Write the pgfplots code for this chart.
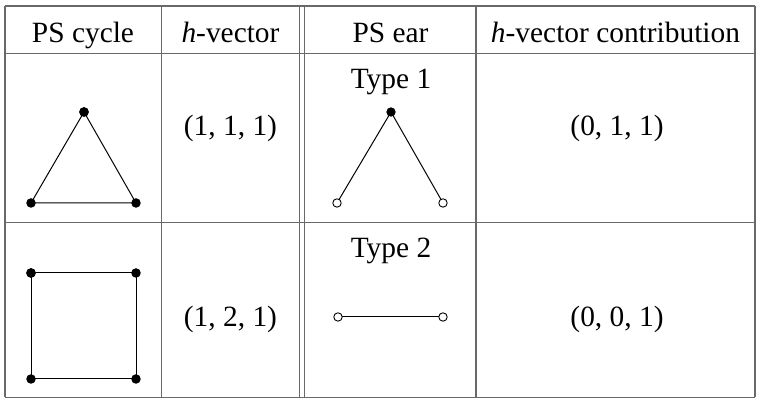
\documentclass[border=0pt]{standalone}
\usepackage{fontspec}
\setmainfont{Liberation Serif}
\usepackage{pgfplots}
\pgfplotsset{compat=1.18}
\definecolor{rule}{RGB}{105,105,105}

\begin{document}
\begin{tikzpicture}[lbl/.style={font=\fontsize{14.7}{17}\selectfont, inner sep=0pt, anchor=base}]
\begin{axis}[
  scale only axis, width=378.5pt, height=199.5pt,
  xmin=0, xmax=757, ymin=0, ymax=399, y dir=reverse,
  hide axis, clip=false,
  tbl/.style={rule, line width=0.8pt, mark=none},
  edge/.style={black, line width=0.5pt, mark=none},
]
\path (axis cs:0,0) rectangle (axis cs:757,399);
% table rules
\addplot[tbl] coordinates {(5,6) (755,6)};
\addplot[tbl] coordinates {(5,53.5) (755,53.5)};
\addplot[tbl] coordinates {(5,222.7) (755,222.7)};
\addplot[tbl] coordinates {(5,397.5) (755,397.5)};
\addplot[tbl] coordinates {(5,6) (5,397.5)};
\addplot[tbl] coordinates {(161.5,6) (161.5,397.5)};
\addplot[tbl] coordinates {(299.5,6) (299.5,397.5)};
\addplot[tbl] coordinates {(304.5,6) (304.5,397.5)};
\addplot[tbl] coordinates {(476,6) (476,397.5)};
\addplot[tbl] coordinates {(755,6) (755,397.5)};
% triangle
\addplot[edge, mark=*, mark size=2.1pt, mark options={fill=black}]
  coordinates {(84,112) (31,203) (136,203) (84,112)};
% square
\addplot[edge, mark=*, mark size=2.1pt, mark options={fill=black}]
  coordinates {(31,273) (136,273) (136,379) (31,379) (31,273)};
% ear type 1
\addplot[edge] coordinates {(337,203) (391,112) (443,203)};
\addplot[only marks, mark=*, mark size=2.1pt, mark options={fill=black, draw=black}]
  coordinates {(391,112)};
\addplot[only marks, mark=*, mark size=2.1pt, mark options={fill=white, draw=black, line width=0.45pt}]
  coordinates {(337,203) (443,203)};
% ear type 2
\addplot[edge] coordinates {(338,317) (443,317)};
\addplot[only marks, mark=*, mark size=2.1pt, mark options={fill=white, draw=black, line width=0.45pt}]
  coordinates {(338,317) (443,317)};
% header
\node[lbl] at (axis cs:83,43) {PS cycle};
\node[lbl] at (axis cs:230.5,43) {\textit{h}-vector};
\node[lbl] at (axis cs:390.5,43) {PS ear};
\node[lbl] at (axis cs:615.5,43) {\textit{h}-vector contribution};
% row 1
\node[lbl] at (axis cs:230.5,136) {(1, 1, 1)};
\node[lbl] at (axis cs:391,89) {Type 1};
\node[lbl] at (axis cs:617,136) {(0, 1, 1)};
% row 2
\node[lbl] at (axis cs:230.5,327) {(1, 2, 1)};
\node[lbl] at (axis cs:391,258) {Type 2};
\node[lbl] at (axis cs:617,327) {(0, 0, 1)};
\end{axis}
\end{tikzpicture}
\end{document}
